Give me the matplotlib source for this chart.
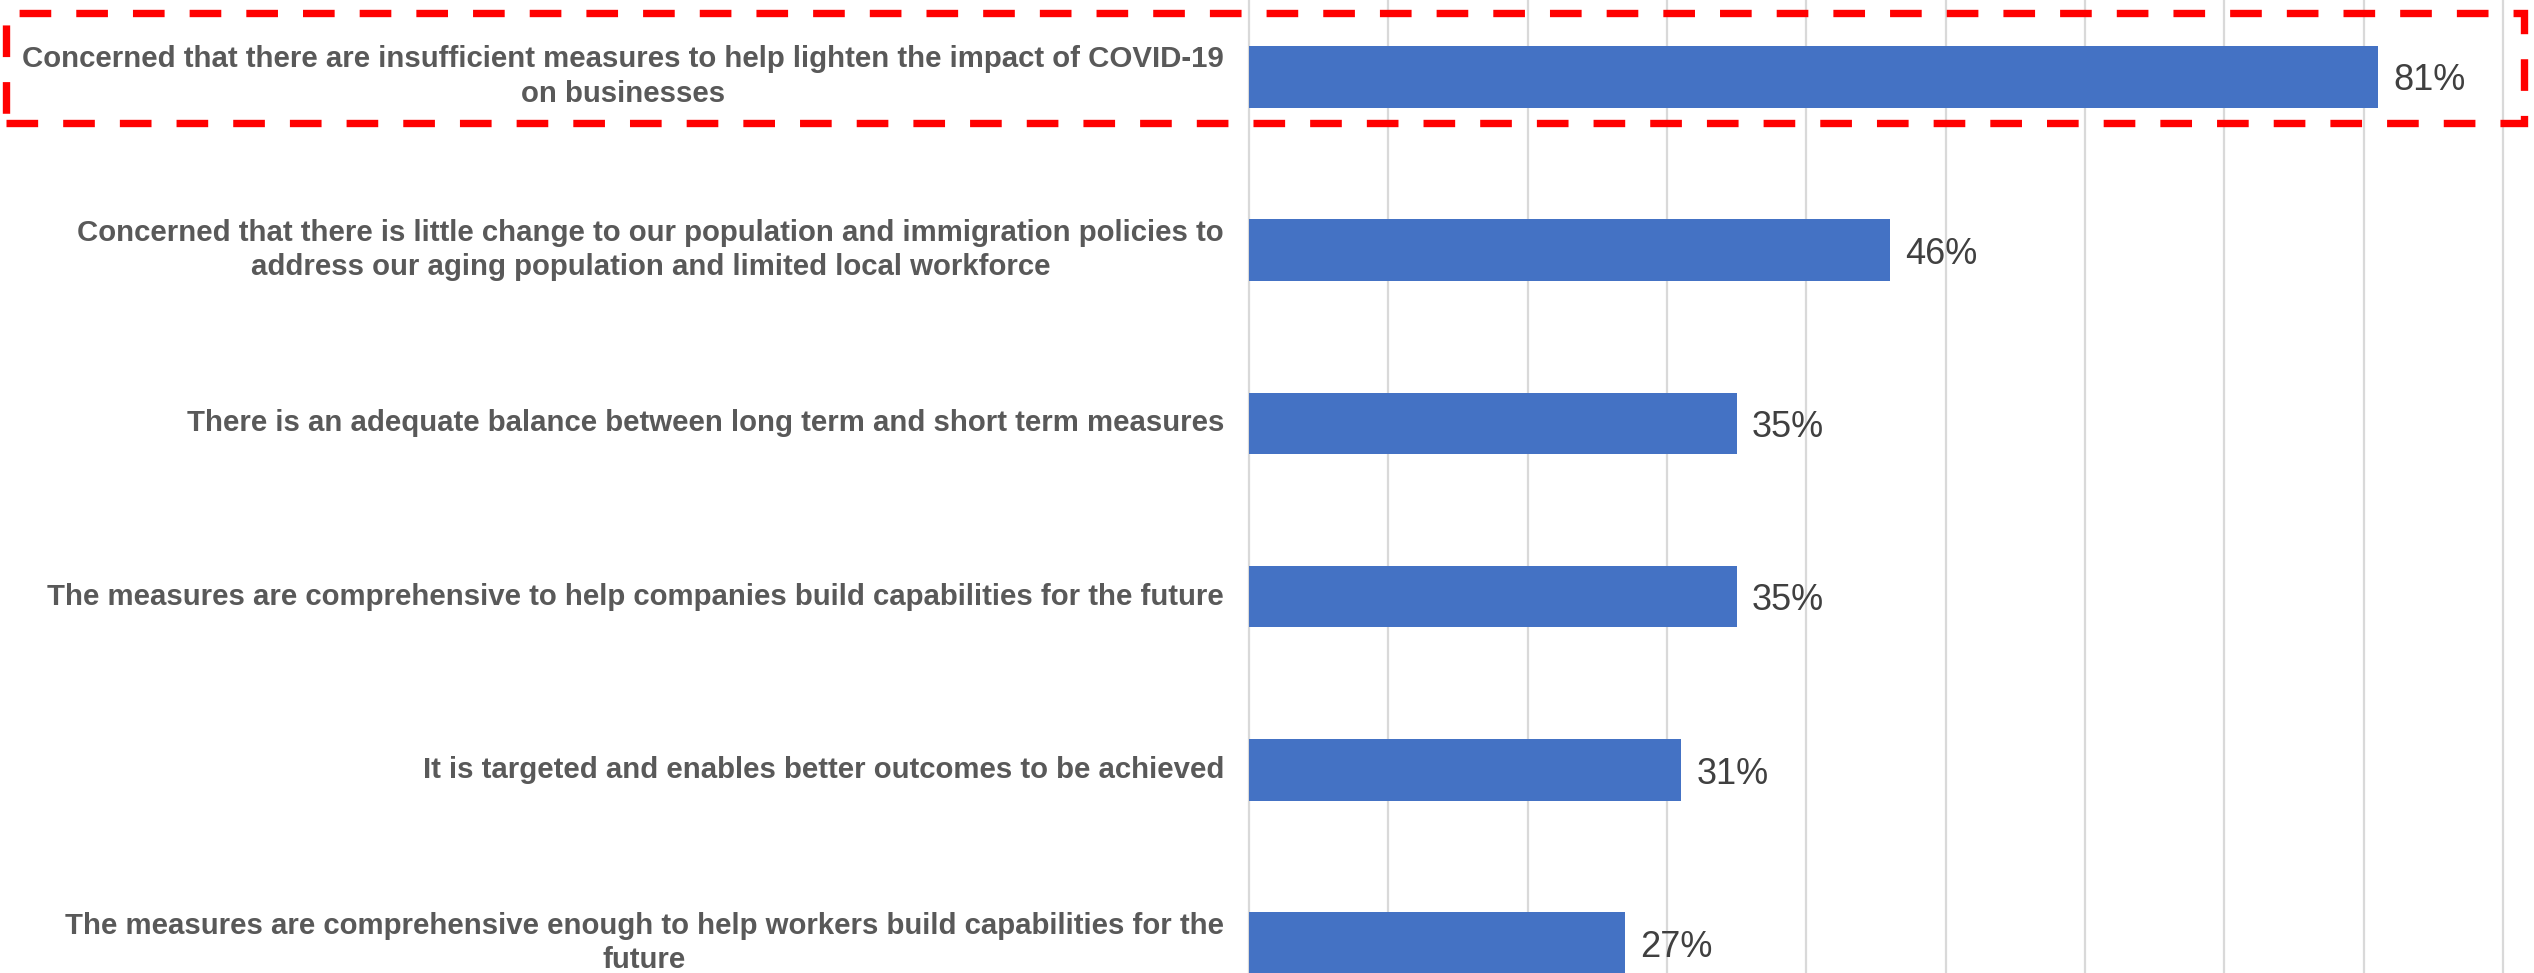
import matplotlib.pyplot as plt
from matplotlib.patches import Rectangle
from matplotlib.ticker import MultipleLocator

plt.rcParams['font.family'] = ['Liberation Sans', 'DejaVu Sans']

statements = [
    'Concerned that there are insufficient measures to help lighten the impact of COVID-19\non businesses',
    'Concerned that there is little change to our population and immigration policies to\naddress our aging population and limited local workforce',
    'There is an adequate balance between long term and short term measures',
    'The measures are comprehensive to help companies build capabilities for the future',
    'It is targeted and enables better outcomes to be achieved',
    'The measures are comprehensive enough to help workers build capabilities for the\nfuture',
]
shares = [0.81, 0.46, 0.35, 0.35, 0.31, 0.27]

W, H, DPI = 2534, 973, 100
fig = plt.figure(figsize=(W / DPI, H / DPI), dpi=DPI)

# plot area: x=0 sits at 1249px, 10% per 139.3px
ax = fig.add_axes([1240 / W, 0, 1 - 1240 / W, 1])
pos = list(range(len(statements)))
ax.barh(pos, shares, height=0.355, color='#4472C4', zorder=2)

for y, v in zip(pos, shares):
    ax.annotate(f'{v:.0%}', (v, y), xytext=(11, -3), textcoords='offset points',
                va='center', ha='left', fontsize=26, color='#404040')

ax.set_xlim(-0.00646, 0.92225)
ax.set_ylim(5.172, -0.443)
ax.xaxis.set_major_locator(MultipleLocator(0.1))
ax.grid(axis='x', color='#D9D9D9', linewidth=1.6, zorder=0)
ax.set_axisbelow(True)
for s in ax.spines.values():
    s.set_visible(False)

ax.set_yticks(pos)
ax.set_yticklabels(statements, fontsize=21.2, fontweight='bold', color='#595959')
for lbl in ax.get_yticklabels():
    lbl.set_multialignment('center')
    lbl.set_linespacing(1.3)
    lbl.set_verticalalignment('center')
ax.tick_params(axis='y', length=0, pad=11.5)
ax.tick_params(axis='x', length=0, labelbottom=False)

# red dashed box around the first statement
box = Rectangle((6 / W, 1 - 123.5 / H), 2517.5 / W, 110 / H,
                transform=fig.transFigure, fill=False, edgecolor='#FF0000',
                linewidth=5.3, linestyle=(0, (4.3, 3.4)), zorder=5)
fig.add_artist(box)

fig.savefig('out.png', dpi=DPI)
